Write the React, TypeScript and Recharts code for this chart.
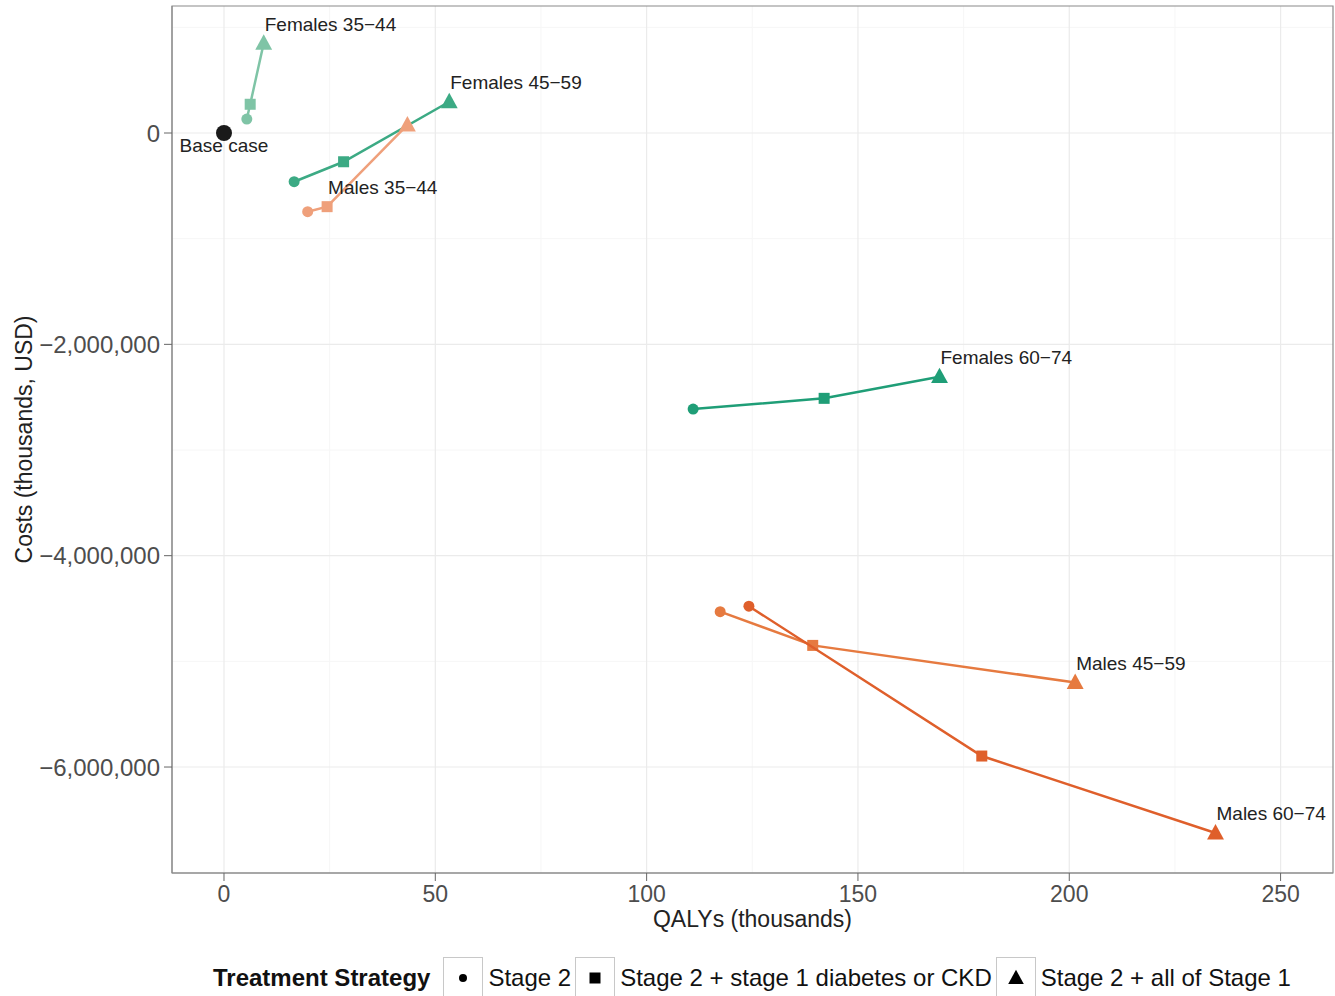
import React from "react";
import {
  CartesianGrid,
  Legend,
  ReferenceArea,
  Scatter,
  ScatterChart,
  XAxis,
  YAxis,
} from "recharts";

// treatment strategies, in the order each line is drawn
const stages = ["Stage 2", "Stage 2 + stage 1 diabetes or CKD", "Stage 2 + all of Stage 1"];

const groups = [
  "Females 35−44",
  "Females 45−59",
  "Females 60−74",
  "Males 35−44",
  "Males 45−59",
  "Males 60−74",
];

// QALYs gained (thousands), one value per strategy
const females3544Qalys = [5.4, 6.2, 9.4];
const females4559Qalys = [16.6, 28.3, 53.3];
const females6074Qalys = [111.0, 142.0, 169.3];
const males3544Qalys = [19.8, 24.4, 43.4];
const males4559Qalys = [117.4, 139.3, 201.4];
const males6074Qalys = [124.2, 179.3, 234.6];

// costs (thousands, USD), one value per strategy
const females3544Costs = [132000, 272000, 850000];
const females4559Costs = [-461000, -272000, 296000];
const females6074Costs = [-2612000, -2511000, -2306000];
const males3544Costs = [-745000, -697000, 76000];
const males4559Costs = [-4530000, -4849000, -5200000];
const males6074Costs = [-4478000, -5896000, -6624000];

// which strategy point carries the group's text label
const labelStage = [2, 2, 2, 1, 2, 2];

const baseCaseQalys = [0];
const baseCaseCosts = [0];

const xTicks = [0, 50, 100, 150, 200, 250];
const xMinor = [25, 75, 125, 175, 225];
const yTicks = [-6000000, -4000000, -2000000, 0];
const yMinor = [-5000000, -3000000, -1000000, 1000000];
const xDomain = [-12.3, 262.4];
const yDomain = [-7003000, 1202000];

const allQalys = [
  females3544Qalys,
  females4559Qalys,
  females6074Qalys,
  males3544Qalys,
  males4559Qalys,
  males6074Qalys,
];
const allCosts = [
  females3544Costs,
  females4559Costs,
  females6074Costs,
  males3544Costs,
  males4559Costs,
  males6074Costs,
];

const groupColors = ["#7fc4a6", "#3caa84", "#1f9e77", "#efa07b", "#e67a40", "#df5f2b"];

const FONT = '"Liberation Sans", Arial, Helvetica, sans-serif';

const series = groups.map((name, g) =>
  stages.map((stage, s) => ({
    qalys: allQalys[g][s],
    cost: allCosts[g][s],
    stage: s,
    label: s === labelStage[g] ? name : null,
  }))
);

const baseCase = baseCaseQalys.map((q, i) => ({ qalys: q, cost: baseCaseCosts[i] }));

const formatCost = (v: number) => {
  const s = Math.abs(v).toLocaleString("en-US");
  return v < 0 ? "−" + s : s;
};

function StageShape({ stage, cx, cy, color, size }: any) {
  if (stage === 0) return <circle cx={cx} cy={cy} r={size * 0.5} fill={color} />;
  if (stage === 1)
    return <rect x={cx - size * 0.5} y={cy - size * 0.5} width={size} height={size} fill={color} />;
  const h = size * 1.1;
  return (
    <polygon
      points={`${cx},${cy - h * 0.62} ${cx - size * 0.65},${cy + h * 0.45} ${cx + size * 0.65},${cy + h * 0.45}`}
      fill={color}
    />
  );
}

function Marker(props: any) {
  const { cx, cy, payload, color } = props;
  if (cx == null || cy == null) return null;
  const size = payload.stage === 2 ? 13 : 11;
  return (
    <g>
      <StageShape stage={payload.stage} cx={cx} cy={cy} color={color} size={size} />
      {payload.label && (
        <text
          x={cx + 1}
          y={cy - 19}
          fontSize={19}
          fontFamily={FONT}
          fill="#222"
          dominantBaseline="central"
        >
          {payload.label}
        </text>
      )}
    </g>
  );
}

function BaseMarker(props: any) {
  const { cx, cy } = props;
  if (cx == null || cy == null) return null;
  return (
    <g>
      <circle cx={cx} cy={cy} r={8} fill="#1a1a1a" />
      <text
        x={cx}
        y={cy + 12}
        fontSize={19}
        fontFamily={FONT}
        fill="#222"
        textAnchor="middle"
        dominantBaseline="central"
      >
        Base case
      </text>
    </g>
  );
}

function LegendBox() {
  return (
    <div
      style={{
        display: "flex",
        alignItems: "center",
        height: 42,
        paddingLeft: 213,
        transform: "translateY(3px)",
        fontFamily: FONT,
        fontSize: 24,
        color: "#111",
        whiteSpace: "nowrap",
      }}
    >
      <span style={{ fontWeight: "bold", marginRight: 13 }}>Treatment Strategy</span>
      {stages.map((stage, i) => (
        <div key={stage} style={{ display: "flex", alignItems: "center" }}>
          <svg width={40} height={42} style={{ display: "block" }}>
            <rect x={0.5} y={0.5} width={39} height={41} fill="#fff" stroke="#c8c8c8" />
            <StageShape stage={i} cx={20} cy={21} color="#000" size={i === 2 ? 12 : i === 1 ? 11 : 8} />
          </svg>
          <span style={{ marginLeft: 5, marginRight: 4 }}>{stage}</span>
        </div>
      ))}
    </div>
  );
}

export default function App() {
  return (
    <div style={{ position: "absolute", left: 0, top: 0, background: "#fff" }}>
      <ScatterChart
        width={1335}
        height={996}
        margin={{ top: 6, right: 2, bottom: 0, left: 0 }}
      >
        <CartesianGrid
          verticalValues={xMinor}
          horizontalValues={yMinor}
          stroke="#f6f6f6"
          strokeWidth={1}
        />
        <CartesianGrid
          verticalValues={xTicks}
          horizontalValues={yTicks}
          stroke="#ebebeb"
          strokeWidth={1.2}
        />
        <XAxis
          type="number"
          dataKey="qalys"
          domain={xDomain}
          ticks={xTicks}
          allowDataOverflow
          height={81}
          tickSize={8}
          tickMargin={5}
          axisLine={{ stroke: "#8a8a8a" }}
          tickLine={{ stroke: "#666" }}
          tick={{ fontSize: 23, fill: "#4d4d4d", fontFamily: FONT }}
          label={{
            content: ({ viewBox }: any) => (
              <text
                x={viewBox.x + viewBox.width / 2}
                y={viewBox.y + 46}
                textAnchor="middle"
                dominantBaseline="central"
                fontSize={23}
                fontFamily={FONT}
                fill="#222"
              >
                QALYs (thousands)
              </text>
            ),
          }}
        />
        <YAxis
          type="number"
          dataKey="cost"
          domain={yDomain}
          ticks={yTicks}
          allowDataOverflow
          width={172}
          tickSize={8}
          tickMargin={4}
          tickFormatter={formatCost}
          axisLine={{ stroke: "#8a8a8a" }}
          tickLine={{ stroke: "#666" }}
          tick={{ fontSize: 24, fill: "#4d4d4d", fontFamily: FONT }}
          label={{
            content: ({ viewBox }: any) => {
              const cy = viewBox.y + viewBox.height / 2;
              return (
                <text
                  x={24}
                  y={cy}
                  transform={`rotate(-90, 24, ${cy})`}
                  textAnchor="middle"
                  dominantBaseline="central"
                  fontSize={23}
                  fontFamily={FONT}
                  fill="#222"
                >
                  Costs (thousands, USD)
                </text>
              );
            },
          }}
        />
        <ReferenceArea
          x1={xDomain[0]}
          x2={xDomain[1]}
          y1={yDomain[0]}
          y2={yDomain[1]}
          fill="none"
          stroke="#8a8a8a"
          strokeWidth={1.2}
          ifOverflow="visible"
        />
        {series.map((data, g) => (
          <Scatter
            key={groups[g]}
            name={groups[g]}
            data={data}
            fill={groupColors[g]}
            line={{ stroke: groupColors[g], strokeWidth: 2.5 }}
            shape={(p: any) => <Marker {...p} color={groupColors[g]} />}
            isAnimationActive={false}
          />
        ))}
        <Scatter
          name="Base case"
          data={baseCase}
          fill="#1a1a1a"
          shape={(p: any) => <BaseMarker {...p} />}
          isAnimationActive={false}
        />
        <Legend verticalAlign="bottom" height={42} content={() => <LegendBox />} />
      </ScatterChart>
    </div>
  );
}
